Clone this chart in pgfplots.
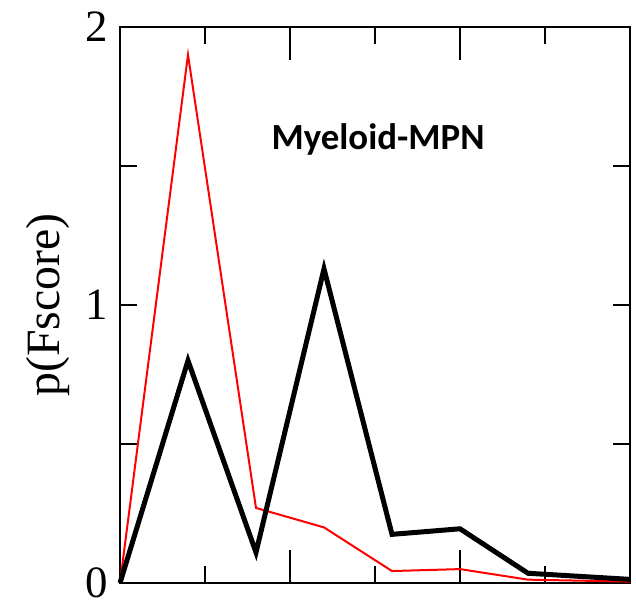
\documentclass[border=0pt]{standalone}
\usepackage{pgfplots}
\pgfplotsset{compat=1.18}
\usepackage{fontspec}
\setmainfont{Liberation Serif}
\newfontfamily\carlito{Carlito}
\begin{document}
\begin{tikzpicture}
\begin{axis}[
  at={(0,0)}, anchor=south west,
  scale only axis, width=510bp, height=556bp,
  xmin=0, xmax=1.5, ymin=0, ymax=2,
  axis line style={line width=2.6bp},
  xtick={0.25,0.75,1.25},
  xticklabels={},
  extra x ticks={0.5,1.0},
  extra x tick labels={},
  extra x tick style={major tick length=33bp},
  ytick={0,0.5,1,1.5,2}, yticklabels={0,,1,,2},
  tick style={line width=2.4bp, black},
  major tick length=17bp,
  tick align=inside,
  xtick pos=both, ytick pos=both,
  /pgf/number format/assume math mode=true,
  tick label style={font=\fontsize{45}{45}\selectfont},
  yticklabel style={xshift=-9bp},
  ylabel={p(Fscore)},
  ylabel style={at={(axis description cs:-0.141,0.5)}, anchor=center, font=\fontsize{48}{48}\selectfont},
  clip=false,
]
\addplot[red, line width=2bp] coordinates {
(0,0) (0.2,1.90) (0.4,0.27) (0.6,0.20) (0.8,0.043) (1.0,0.05) (1.2,0.012) (1.5,0.005)};
\addplot[black, line width=5bp] coordinates {
(0,0) (0.2,0.80) (0.4,0.11) (0.6,1.13) (0.8,0.175) (1.0,0.195) (1.2,0.035) (1.5,0.013)};
\node[font=\carlito\bfseries\fontsize{37}{37}\selectfont] at (axis cs:0.759,1.594) {Myeloid-MPN};
\end{axis}
\pgfresetboundingbox
\useasboundingbox (-120bp,-22bp) rectangle (516bp,583bp);
\end{tikzpicture}
\end{document}
